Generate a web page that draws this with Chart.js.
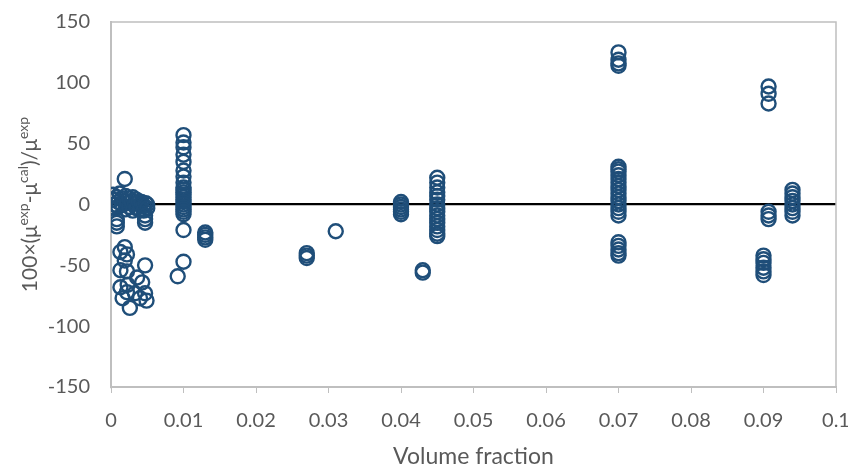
<!DOCTYPE html>
<html lang="en">
<head>
    <meta charset="UTF-8">
    <title>Deviation vs volume fraction</title>
    <script src="https://cdn.jsdelivr.net/npm/chart.js"></script>
    <style>
        body {
            margin: 0;
            padding: 0;
            background-color: #ffffff;
        }
        #chart {
            display: block;
        }
    </style>
</head>
<body>
    <canvas id="chart" width="848" height="470"></canvas>

    <script>
        // x-axis ticks: 0 .. 0.1
        const xMin = 0, xMax = 0.1, xStep = 0.01;
        // y-axis ticks: -150 .. 150
        const yMin = -150, yMax = 150, yStep = 50;

        // points below 0.006, where the volume fraction varies point to point
        const lowX = [
            0.0003, 0.0003, 0.0005, 0.0005, 0.0008, 0.001, 0.001, 0.0012, 0.0015, 0.0015,
            0.0018, 0.002, 0.002, 0.0022, 0.0025, 0.0025, 0.0028, 0.003, 0.003, 0.0033,
            0.0035, 0.0035, 0.0038, 0.004, 0.004, 0.0042, 0.0045, 0.0045, 0.0048, 0.005,
            0.005, 0.0008, 0.0008, 0.0008, 0.0047, 0.0047, 0.0047, 0.0019,
            0.0019, 0.0013, 0.0022, 0.0019, 0.0047, 0.0013, 0.0022, 0.0036, 0.0013, 0.0023,
            0.0043, 0.0047, 0.0033, 0.0016, 0.004, 0.0049, 0.0026, 0.0022
        ];
        const lowY = [
            8, 4, 0, -3, 6, 2, -2, 9, 5, 0,
            3, 7, -4, 1, 5, -2, 3, 6, -5, 1,
            4, -3, 2, 0, -4, 2, -1, -5, 1, 0,
            -3, -12, -15, -18, -9, -12, -15, 21,
            -35, -39, -41, -46, -50, -54, -55, -60, -68, -66,
            -64, -73, -73, -77, -77, -79, -85, -72
        ];

        // stacked columns: one volume fraction, several deviations each
        const colFractions = [0.0092, 0.01, 0.013, 0.027, 0.031, 0.04, 0.043, 0.045, 0.07, 0.09, 0.0907, 0.094];
        const colDeviations = [
            [-59],
            [57, 51, 47, 41, 35, 28, 23, 18, 14, 12, 10, 8, 6, 4, 2, 0, -2, -4, -6, -8, -21, -47],
            [-23, -25, -27, -29],
            [-40, -42, -44],
            [-22],
            [2, 0, -2, -4, -6, -8],
            [-54, -56],
            [22, 18, 14, 10, 7, 4, 0, -3, -6, -9, -12, -15, -18, -21, -24, -26],
            [125, 119, 116, 114, 31, 29, 27, 24, 21, 18, 15, 12, 9, 6, 3, 0, -3, -6, -9, -31, -34, -37, -40, -42],
            [-42, -45, -48, -52, -55, -58],
            [97, 91, 83, -6, -9, -12],
            [12, 9, 6, 3, 0, -3, -6, -9]
        ];

        const points = lowX.map((x, i) => ({ x: x, y: lowY[i] }));
        colFractions.forEach((x, i) => {
            colDeviations[i].forEach(y => points.push({ x: x, y: y }));
        });

        const axisGray = '#bfbfbf';
        const textGray = '#595959';
        const fontFamily = 'Lato, "Open Sans", sans-serif';

        // frame on top and right of the plot area
        const framePlugin = {
            id: 'frame',
            beforeDatasetsDraw(chart) {
                const a = chart.chartArea;
                const c = chart.ctx;
                c.save();
                c.strokeStyle = axisGray;
                c.lineWidth = 1.5;
                c.beginPath();
                c.moveTo(a.left, a.top);
                c.lineTo(a.right, a.top);
                c.lineTo(a.right, a.bottom);
                c.stroke();
                c.restore();
            }
        };

        // y title with superscripts
        const yTitlePlugin = {
            id: 'yTitle',
            afterDraw(chart) {
                const a = chart.chartArea;
                const c = chart.ctx;
                const parts = [
                    ['100×(μ', false], ['exp', true], ['-μ', false], ['cal', true],
                    [')/μ', false], ['exp', true]
                ];
                const big = '21px ' + fontFamily;
                const small = '14px ' + fontFamily;
                let total = 0;
                parts.forEach(p => {
                    c.font = p[1] ? small : big;
                    total += c.measureText(p[0]).width;
                });
                c.save();
                c.translate(30, (a.top + a.bottom) / 2);
                c.rotate(-Math.PI / 2);
                c.fillStyle = textGray;
                c.textBaseline = 'middle';
                let x = -total / 2;
                parts.forEach(p => {
                    c.font = p[1] ? small : big;
                    c.fillText(p[0], x, p[1] ? -7 : 0);
                    x += c.measureText(p[0]).width;
                });
                c.restore();
            }
        };

        new Chart(document.getElementById('chart'), {
            type: 'scatter',
            data: {
                datasets: [{
                    label: 'Deviation',
                    data: points,
                    pointStyle: 'circle',
                    pointRadius: 7,
                    pointHoverRadius: 7,
                    pointBorderWidth: 2.4,
                    borderColor: '#1f4e79',
                    backgroundColor: 'rgba(0,0,0,0)'
                }]
            },
            options: {
                responsive: false,
                animation: false,
                layout: {
                    padding: { top: 22, right: 12, left: 0, bottom: 0 }
                },
                plugins: {
                    legend: { display: false },
                    tooltip: { enabled: false }
                },
                scales: {
                    x: {
                        type: 'linear',
                        min: xMin,
                        max: xMax,
                        afterFit: s => {
                            s.height = 83;
                            s.paddingLeft = 0;
                            s.paddingRight = 0;
                        },
                        ticks: {
                            stepSize: xStep,
                            color: textGray,
                            padding: 16,
                            font: { family: fontFamily, size: 20 },
                            callback: v => Number(v.toFixed(2)).toString()
                        },
                        grid: {
                            drawOnChartArea: false,
                            drawTicks: true,
                            tickLength: 6,
                            color: axisGray
                        },
                        border: { color: axisGray, width: 2 },
                        title: {
                            display: true,
                            text: 'Volume fraction',
                            color: textGray,
                            font: { family: fontFamily, size: 23 },
                            padding: { top: 2, bottom: 0 }
                        }
                    },
                    y: {
                        min: yMin,
                        max: yMax,
                        afterFit: s => {
                            s.width = 111;
                            s.paddingTop = 0;
                            s.paddingBottom = 0;
                        },
                        ticks: {
                            stepSize: yStep,
                            color: textGray,
                            padding: 21,
                            font: { family: fontFamily, size: 20 }
                        },
                        grid: {
                            drawTicks: false,
                            lineWidth: 2.2,
                            color: ctx => ctx.tick && ctx.tick.value === 0 ? '#000000' : 'rgba(0,0,0,0)'
                        },
                        border: { color: axisGray, width: 2 }
                    }
                }
            },
            plugins: [framePlugin, yTitlePlugin]
        });
    </script>
</body>
</html>
